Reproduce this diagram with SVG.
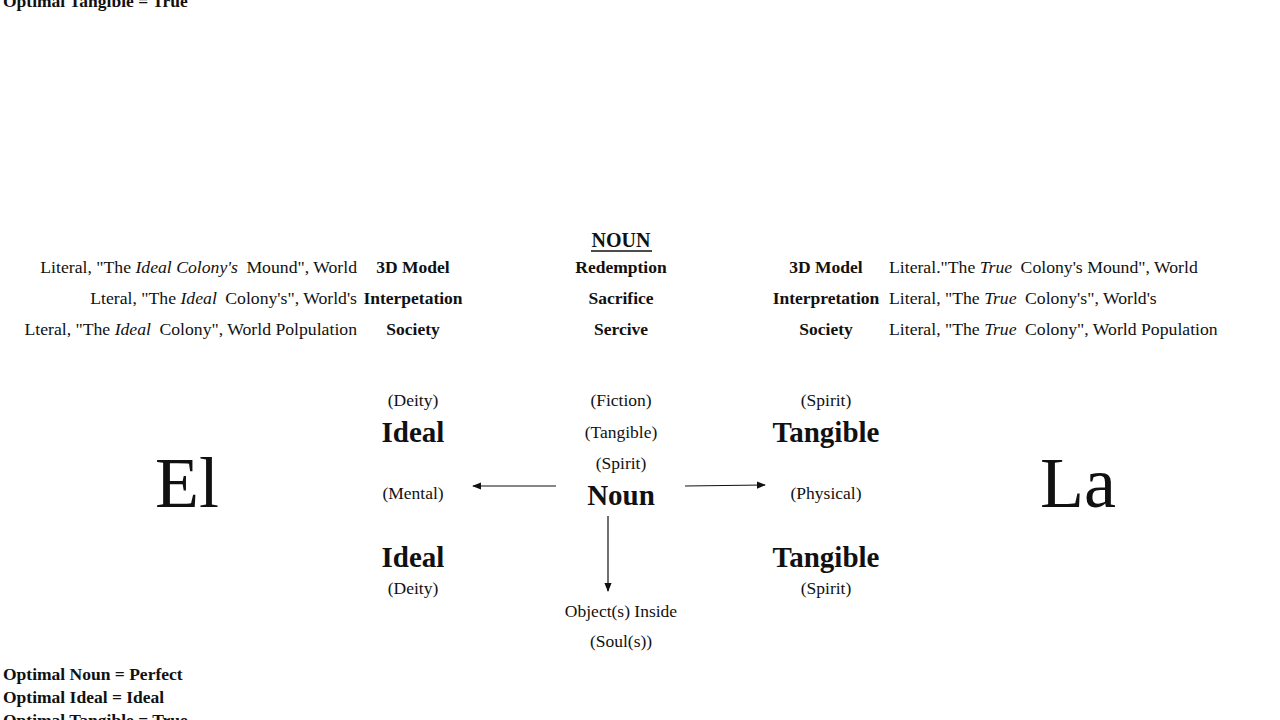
<svg xmlns="http://www.w3.org/2000/svg" width="1280" height="720" viewBox="0 0 1280 720">
<style>
text{font-family:"Liberation Serif","Times New Roman",serif;fill:#111}
.r{font-size:17.5px}
.rw{font-size:17.7px}
.b{font-size:17.5px;font-weight:bold}
.big{font-size:29px;font-weight:bold}
.huge{font-size:72px}
.m{text-anchor:middle}
.e{text-anchor:end}
.i{font-style:italic}
.ln{stroke:#111;stroke-width:1.2;fill:none}
</style>
<defs>
<marker id="ah" viewBox="0 0 10 10" refX="9" refY="5" markerWidth="9" markerHeight="9" markerUnits="userSpaceOnUse" orient="auto">
<path d="M0,1 L10,5 L0,9 Z" fill="#111"/>
</marker>
</defs>
<rect width="1280" height="720" fill="#fff"/>

<g id="notes-top"><text class="b" x="3" y="7">Optimal Tangible = True</text></g>
<g id="notes-bottom">
<text class="b" x="3" y="680">Optimal Noun = Perfect</text>
<text class="b" x="3" y="703">Optimal Ideal = Ideal</text>
<text class="b" x="3" y="726">Optimal Tangible = True</text>
</g>

<g id="left-rows">
<text class="rw e" x="357" y="273">Literal, "The <tspan class="i">Ideal Colony's</tspan><tspan dx="4"> Mound", World</tspan></text>
<text class="rw e" x="357" y="304">Lteral, "The <tspan class="i">Ideal</tspan><tspan dx="4"> Colony's", World's</tspan></text>
<text class="rw e" x="357" y="335">Lteral, "The <tspan class="i">Ideal</tspan><tspan dx="4"> Colony", World Polpulation</tspan></text>
<text class="b m" x="413" y="273">3D Model</text>
<text class="b m" x="413" y="304">Interpetation</text>
<text class="b m" x="413" y="335">Society</text>
</g>

<g id="center-rows">
<text class="m" x="621" y="247" style="font-size:20px;font-weight:bold">NOUN</text>
<line x1="591" y1="251" x2="652" y2="251" stroke="#111" stroke-width="1.3"/>
<text class="b m" x="621" y="273">Redemption</text>
<text class="b m" x="621" y="304">Sacrifice</text>
<text class="b m" x="621" y="335">Sercive</text>
</g>

<g id="right-rows">
<text class="b m" x="826" y="273">3D Model</text>
<text class="b m" x="826" y="304">Interpretation</text>
<text class="b m" x="826" y="335">Society</text>
<text class="rw" x="889" y="273">Literal."The <tspan class="i">True</tspan><tspan dx="4"> Colony's Mound", World</tspan></text>
<text class="rw" x="889" y="304">Literal, "The <tspan class="i">True</tspan><tspan dx="4"> Colony's", World's</tspan></text>
<text class="rw" x="889" y="335">Literal, "The <tspan class="i">True</tspan><tspan dx="4"> Colony", World Population</tspan></text>
</g>

<g id="el"><text class="huge m" x="187" y="507">El</text></g>
<g id="la"><text class="huge m" x="1078" y="507">La</text></g>

<g id="ideal">
<text class="r m" x="413" y="406">(Deity)</text>
<text class="big m" x="413" y="442">Ideal</text>
<text class="r m" x="413" y="499">(Mental)</text>
<text class="big m" x="413" y="567">Ideal</text>
<text class="r m" x="413" y="594">(Deity)</text>
</g>

<g id="noun">
<text class="r m" x="621" y="406">(Fiction)</text>
<text class="r m" x="621" y="438">(Tangible)</text>
<text class="r m" x="621" y="469">(Spirit)</text>
<text class="big m" x="621" y="505">Noun</text>
</g>

<g id="object">
<text class="r m" x="621" y="617">Object(s) Inside</text>
<text class="r m" x="621" y="647">(Soul(s))</text>
</g>

<g id="tangible">
<text class="r m" x="826" y="406">(Spirit)</text>
<text class="big m" x="826" y="442">Tangible</text>
<text class="r m" x="826" y="499">(Physical)</text>
<text class="big m" x="826" y="567">Tangible</text>
<text class="r m" x="826" y="594">(Spirit)</text>
</g>

<g id="connectors">
<line class="ln" x1="556" y1="486" x2="473" y2="486" marker-end="url(#ah)"/>
<line class="ln" x1="685" y1="486" x2="765" y2="485" marker-end="url(#ah)"/>
<line class="ln" x1="608" y1="516" x2="608" y2="591" marker-end="url(#ah)"/>
</g>
</svg>
